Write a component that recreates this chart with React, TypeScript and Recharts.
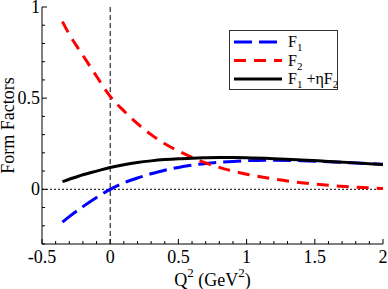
import React from 'react';
import { LineChart, Line, XAxis, YAxis, ReferenceLine, Legend } from 'recharts';

const qValues = [-0.35, -0.3, -0.2, -0.1, 0, 0.1, 0.2, 0.3, 0.4, 0.5, 0.6, 0.7, 0.8, 0.9, 1.0, 1.2, 1.4, 1.6, 1.8, 2.0];
const f1Values = [-0.18, -0.15, -0.095, -0.045, 0, 0.035, 0.062, 0.085, 0.105, 0.12, 0.132, 0.142, 0.149, 0.153, 0.157, 0.16, 0.157, 0.151, 0.144, 0.137];
const f2Values = [0.92, 0.85, 0.735, 0.62, 0.51, 0.43, 0.36, 0.3, 0.25, 0.21, 0.175, 0.145, 0.12, 0.1, 0.083, 0.056, 0.036, 0.022, 0.012, 0.005];
const combinedValues = [0.042, 0.055, 0.08, 0.1, 0.12, 0.135, 0.147, 0.156, 0.163, 0.168, 0.171, 0.173, 0.174, 0.174, 0.173, 0.168, 0.161, 0.153, 0.145, 0.136];

const xTicks = [-0.5, -0.4, -0.3, -0.2, -0.1, 0, 0.1, 0.2, 0.3, 0.4, 0.5, 0.6, 0.7, 0.8, 0.9, 1, 1.1, 1.2, 1.3, 1.4, 1.5, 1.6, 1.7, 1.8, 1.9, 2];
const xLabelTicks = [-0.5, 0, 0.5, 1, 1.5, 2];
const yTicks = [-0.3, -0.2, -0.1, 0, 0.1, 0.2, 0.3, 0.4, 0.5, 0.6, 0.7, 0.8, 0.9, 1];
const yLabelTicks = [0, 0.5, 1];

const data = qValues.map((q, i) => ({ q, f1: f1Values[i], f2: f2Values[i], comb: combinedValues[i] }));

const FONT = "Liberation Serif";
const isIn = (arr: number[], v: number) => arr.some((t) => Math.abs(t - v) < 1e-9);

const BottomTick = (props: any) => {
  const { x, y, payload } = props;
  const major = isIn(xLabelTicks, payload.value);
  const len = major ? 5 : 3;
  return (
    <g>
      <line x1={x} y1={y} x2={x} y2={y - len} stroke="#000" strokeWidth={1} />
      {major && (
        <text x={x} y={y + 19} textAnchor="middle" fontFamily={FONT} fontSize={18} fill="#000">
          {String(payload.value)}
        </text>
      )}
    </g>
  );
};

const TopTick = (props: any) => {
  const { x, y, payload } = props;
  const major = isIn(xLabelTicks, payload.value);
  const len = major ? 5 : 3;
  return <line x1={x} y1={y} x2={x} y2={y + len} stroke="#000" strokeWidth={1} />;
};

const LeftTick = (props: any) => {
  const { x, y, payload } = props;
  const major = isIn(yLabelTicks, payload.value);
  const len = major ? 5 : 3;
  return (
    <g>
      <line x1={x} y1={y} x2={x + len} y2={y} stroke="#000" strokeWidth={1} />
      {major && (
        <text x={x - 2} y={y + 6} textAnchor="end" fontFamily={FONT} fontSize={18} fill="#000">
          {String(payload.value)}
        </text>
      )}
    </g>
  );
};

const RightTick = (props: any) => {
  const { x, y, payload } = props;
  const major = isIn(yLabelTicks, payload.value);
  const len = major ? 5 : 3;
  return <line x1={x} y1={y} x2={x - len} y2={y} stroke="#000" strokeWidth={1} />;
};

const XTitle = (props: any) => {
  const vb = props.viewBox || { x: 42, y: 244, width: 341, height: 45 };
  const cx = vb.x + vb.width / 2;
  return (
    <text x={cx} y={vb.y + 42} textAnchor="middle" fontFamily={FONT} fontSize={18} fill="#000">
      <tspan>Q</tspan>
      <tspan fontSize={13} dy={-9}>2</tspan>
      <tspan dy={9}>{'\u00a0(GeV'}</tspan>
      <tspan fontSize={13} dy={-9}>2</tspan>
      <tspan dy={9}>)</tspan>
    </text>
  );
};

const YTitle = (props: any) => {
  const vb = props.viewBox || { x: 0, y: 7, width: 42, height: 237 };
  const cy = vb.y + vb.height / 2;
  const tx = 14;
  return (
    <text x={tx} y={cy} transform={`rotate(-90, ${tx}, ${cy})`} textAnchor="middle" fontFamily={FONT} fontSize={18} fill="#000">
      Form Factors
    </text>
  );
};

const legendItems = [
  { key: 'f1', color: '#0000ff', dash: '18 7', label: [['F', false], ['1', true]] },
  { key: 'f2', color: '#ff0000', dash: '12 8', label: [['F', false], ['2', true]] },
  { key: 'comb', color: '#000000', dash: undefined, label: [['F', false], ['1', true], ['\u00a0+\u03b7F', false], ['2', true]] },
];

const LegendBox = () => (
  <svg width={110} height={61} style={{ display: 'block' }}>
    <rect x={0.5} y={0.5} width={108} height={59} fill="#fff" stroke="#333" strokeWidth={1} />
    {legendItems.map((it, i) => {
      const cy = 12 + i * 18.5;
      let prevSub = false;
      return (
        <g key={it.key}>
          <line x1={5} x2={53} y1={cy} y2={cy} stroke={it.color} strokeWidth={3} strokeDasharray={it.dash} />
          <text x={59} y={cy + 5} fontFamily={FONT} fontSize={16} fill="#000">
            {(it.label as any[]).map(([t, sub], j) => {
              const dy = sub && !prevSub ? 4 : !sub && prevSub ? -4 : 0;
              prevSub = sub;
              return (
                <tspan key={j} dy={dy} fontSize={sub ? 11 : 16}>
                  {t}
                </tspan>
              );
            })}
          </text>
        </g>
      );
    })}
  </svg>
);

export default function App() {
  return (
    <div style={{ position: 'absolute', left: 0, top: 0, background: '#fff', fontFamily: FONT }}>
      <LineChart width={388} height={289} data={data} margin={{ top: 7, right: 5, bottom: 0, left: 0 }}>
        <XAxis
          dataKey="q"
          type="number"
          domain={[-0.5, 2]}
          ticks={xTicks}
          interval={0}
          allowDataOverflow
          height={45}
          tickSize={0}
          tickMargin={0}
          tickLine={false}
          tick={<BottomTick />}
          axisLine={{ stroke: '#000', strokeWidth: 1 }}
          label={<XTitle />}
        />
        <XAxis
          xAxisId="top"
          orientation="top"
          dataKey="q"
          type="number"
          domain={[-0.5, 2]}
          ticks={xTicks}
          interval={0}
          allowDataOverflow
          height={0}
          tickSize={0}
          tickMargin={0}
          tickLine={false}
          tick={<TopTick />}
          axisLine={{ stroke: '#000', strokeWidth: 1 }}
        />
        <YAxis
          type="number"
          domain={[-0.3, 1]}
          ticks={yTicks}
          interval={0}
          allowDataOverflow
          width={42}
          tickSize={0}
          tickMargin={0}
          tickLine={false}
          tick={<LeftTick />}
          axisLine={{ stroke: '#000', strokeWidth: 1 }}
          label={<YTitle />}
        />
        <YAxis
          yAxisId="right"
          orientation="right"
          type="number"
          domain={[-0.3, 1]}
          ticks={yTicks}
          interval={0}
          allowDataOverflow
          width={0}
          tickSize={0}
          tickMargin={0}
          tickLine={false}
          tick={<RightTick />}
          axisLine={{ stroke: '#000', strokeWidth: 1 }}
        />
        <ReferenceLine x={0} stroke="#000" strokeWidth={1} strokeDasharray="5 3" />
        <ReferenceLine y={0} stroke="#000" strokeWidth={1} strokeDasharray="2 2" />
        <Line dataKey="f1" type="monotone" stroke="#0000ff" strokeWidth={3} strokeDasharray="18 7" dot={false} isAnimationActive={false} />
        <Line dataKey="f2" type="monotone" stroke="#ff0000" strokeWidth={3} strokeDasharray="12 8" dot={false} isAnimationActive={false} />
        <Line dataKey="comb" type="monotone" stroke="#000000" strokeWidth={3} dot={false} isAnimationActive={false} />
        <Legend
          layout="vertical"
          align="center"
          verticalAlign="middle"
          wrapperStyle={{ position: 'absolute', left: 229, top: 30, width: 110, height: 61 }}
          content={() => <LegendBox />}
        />
      </LineChart>
    </div>
  );
}
